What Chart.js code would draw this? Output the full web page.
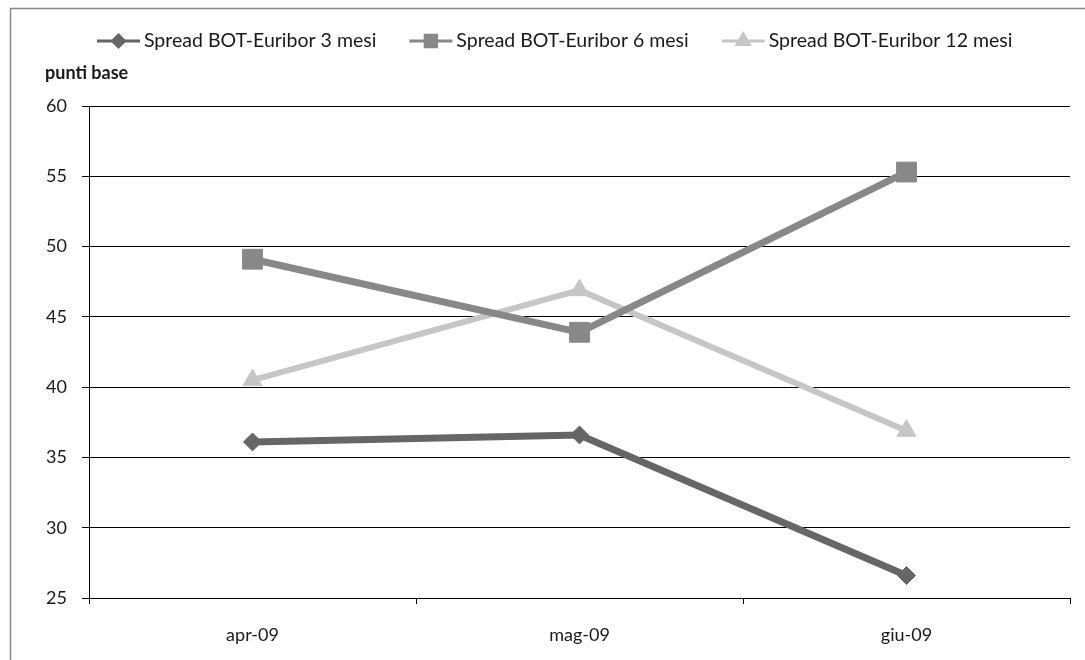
<!DOCTYPE html>
<html><head><meta charset="utf-8">
<script src="https://cdn.jsdelivr.net/npm/chart.js@4.4.1/dist/chart.umd.min.js"></script>
<style>html,body{margin:0;padding:0;background:#fff}#wrap{width:1085px;height:660px;position:relative}</style>
</head><body><div id="wrap"><canvas id="c" width="1085" height="660"></canvas></div>
<script>
const categories = ['apr-09', 'mag-09', 'giu-09'];
const spread3m = [36.1, 36.6, 26.6];
const spread6m = [49.1, 43.9, 55.3];
const spread12m = [40.5, 46.9, 36.9];
const seriesLabels = ['Spread BOT-Euribor 3 mesi', 'Spread BOT-Euribor 6 mesi', 'Spread BOT-Euribor 12 mesi'];
const yMin = 25, yMax = 60, yStep = 5;
const yTitle = 'punti base';

const FONT = 'Lato, "Open Sans", sans-serif';
const colors = ['#666666', '#888888', '#c6c6c6'];
const styles = ['rectRot', 'rect', 'triangle'];
const radii = [9, 14, 11];

const legendAndFrame = {
  id: 'legendAndFrame',
  beforeDraw(chart) {
    const ctx = chart.ctx;
    ctx.save();
    ctx.strokeStyle = '#8a8a8a';
    ctx.lineWidth = 1.5;
    ctx.beginPath();
    ctx.moveTo(10.5, 660); ctx.lineTo(10.5, 8.5); ctx.lineTo(1085, 8.5);
    ctx.stroke();
    ctx.restore();
  },
  afterDraw(chart) {
    const ctx = chart.ctx;
    ctx.save();
    ctx.font = 'bold 18px ' + FONT;
    ctx.fillStyle = '#1a1a1a';
    ctx.textBaseline = 'middle';
    ctx.textAlign = 'left';
    ctx.fillText(yTitle, 45, 73);
    ctx.font = '19.5px ' + FONT;
    let x = 97;
    const y = 41;
    chart.data.datasets.forEach((ds, i) => {
      ctx.strokeStyle = ds.borderColor;
      ctx.lineWidth = 3;
      ctx.beginPath(); ctx.moveTo(x, y); ctx.lineTo(x + 43, y); ctx.stroke();
      Chart.helpers.drawPoint(ctx, {pointStyle: ds.pointStyle, radius: [6, 8, 7][i], rotation: 0, borderWidth: 1}, x + 21.5, y);
      ctx.fillStyle = ds.borderColor; ctx.fill();
      ctx.fillStyle = '#1a1a1a';
      ctx.fillText(ds.label, x + 47, y);
      x += 47 + ctx.measureText(ds.label).width + 33;
    });
    ctx.restore();
  }
};

const mk = (i, data) => ({
  label: seriesLabels[i], data,
  borderColor: colors[i], backgroundColor: colors[i],
  borderWidth: i === 2 ? 6 : 7,
  pointStyle: styles[i], pointRadius: radii[i], pointHoverRadius: radii[i],
  pointBorderWidth: 1, pointBackgroundColor: colors[i], pointBorderColor: colors[i],
  tension: 0
});

new Chart(document.getElementById('c'), {
  type: 'line',
  data: { labels: categories, datasets: [mk(0, spread3m), mk(1, spread6m), mk(2, spread12m)] },
  options: {
    responsive: false, animation: false,
    layout: { padding: { top: 106, right: 12, left: 0, bottom: 0 } },
    plugins: { legend: { display: false }, tooltip: { enabled: false } },
    scales: {
      x: {
        offset: true,
        grid: { offset: true, drawOnChartArea: false, tickLength: 6, color: '#000' },
        border: { color: '#000', width: 1 },
        ticks: { font: { family: FONT, size: 18 }, color: '#1a1a1a', padding: 20 },
        afterFit(s) { s.height = 62; }
      },
      y: {
        min: yMin, max: yMax,
        grid: { color: '#000', lineWidth: 1, tickLength: 7 },
        border: { color: '#000', width: 1 },
        ticks: { stepSize: yStep, font: { family: FONT, size: 18 }, color: '#1a1a1a', padding: 15 },
        afterFit(s) { s.width = 89; }
      }
    }
  },
  plugins: [legendAndFrame]
});
</script></body></html>
